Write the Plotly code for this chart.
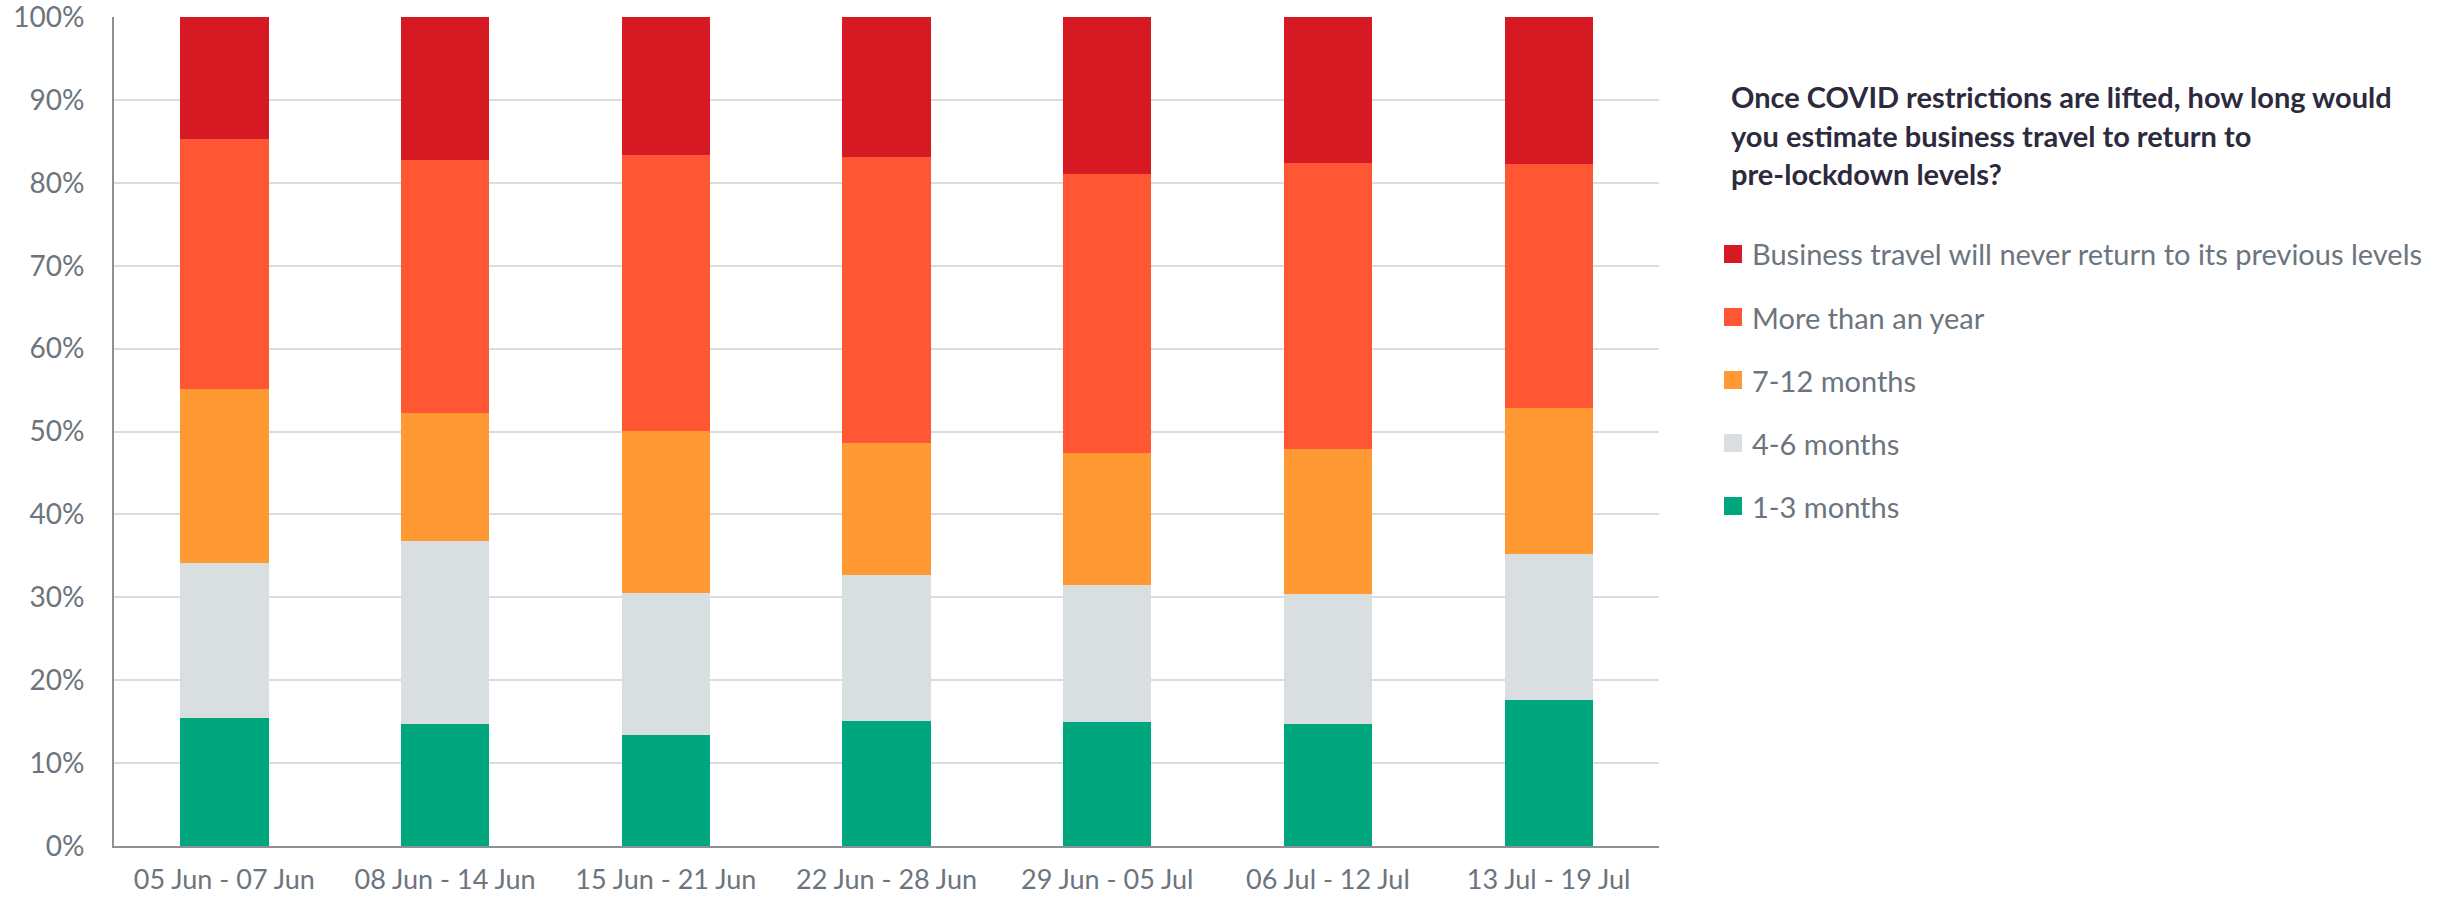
import plotly.graph_objects as go

categories = ["05 Jun - 07 Jun", "08 Jun - 14 Jun", "15 Jun - 21 Jun", "22 Jun - 28 Jun",
              "29 Jun - 05 Jul", "06 Jul - 12 Jul", "13 Jul - 19 Jul"]

series_names = ["1-3 months", "4-6 months", "7-12 months", "More than an year",
                "Business travel will never return to its previous levels"]

one_to_three = [15.5, 14.7, 13.4, 15.1, 15.0, 14.7, 17.6]
four_to_six = [18.6, 22.1, 17.1, 17.6, 16.5, 15.7, 17.6]
seven_to_twelve = [21.0, 15.4, 19.6, 15.9, 15.9, 17.5, 17.6]
more_than_year = [30.2, 30.6, 33.2, 34.5, 33.7, 34.5, 29.5]
never_return = [14.7, 17.2, 16.7, 16.9, 18.9, 17.6, 17.7]

series_values = [one_to_three, four_to_six, seven_to_twelve, more_than_year, never_return]
colors = ["#00A67E", "#D9DEE1", "#FF9933", "#FF5733", "#D71923"]

y_tick_values = [0, 10, 20, 30, 40, 50, 60, 70, 80, 90, 100]
y_tick_labels = ["0%", "10%", "20%", "30%", "40%", "50%", "60%", "70%", "80%", "90%", "100%"]

title_lines = ["Once COVID restrictions are lifted, how long would",
               "you estimate business travel to return to",
               "pre-lockdown levels?"]

FONT = "Lato"
TEXT = "#6C757D"

fig = go.Figure()
for name, vals, col in zip(series_names, series_values, colors):
    fig.add_trace(go.Bar(x=categories, y=vals, name=name, marker_color=col,
                         marker_line_width=0, showlegend=False))

W, H = 2461, 899
L, R, T, B = 114, 802, 17, 53
pw, ph = W - L - R, H - T - B

def px(x):
    return (x - L) / pw

def py(y):
    return (H - B - y) / ph

annotations = []
shapes = []
for i, line in enumerate(title_lines):
    annotations.append(dict(text="<b>" + line + "</b>", xref="paper", yref="paper",
                            x=px(1729), y=py(97 + i * 38), xanchor="left", yanchor="middle",
                            showarrow=False, font=dict(family=FONT, size=29, color="#2D2A3E")))

legend_order = list(range(len(series_names)))[::-1]
for k, idx in enumerate(legend_order):
    yc = 254 + k * 63
    shapes.append(dict(type="rect", xref="paper", yref="paper",
                       x0=px(1724), x1=px(1742), y0=py(yc - 9), y1=py(yc + 9),
                       fillcolor=colors[idx], line=dict(width=0)))
    annotations.append(dict(text=series_names[idx], xref="paper", yref="paper",
                            x=px(1750), y=py(yc), xanchor="left", yanchor="middle",
                            showarrow=False, font=dict(family=FONT, size=29, color=TEXT)))

fig.update_layout(
    width=W, height=H,
    margin=dict(l=L, r=R, t=T, b=B, pad=0, autoexpand=False),
    barmode="stack", bargap=0.6,
    plot_bgcolor="white", paper_bgcolor="white",
    font=dict(family=FONT, color=TEXT),
    annotations=annotations, shapes=shapes,
)
fig.update_xaxes(showline=True, linecolor="#8C9196", linewidth=2, showgrid=False,
                 tickfont=dict(family=FONT, size=27, color=TEXT), ticks="",
                 ticklabelstandoff=9, automargin=False, ticklabeloverflow="allow")
fig.update_yaxes(range=[0, 100], tickmode="array", tickvals=y_tick_values,
                 ticktext=y_tick_labels, showline=True,
                 linecolor="#8C9196", linewidth=2, gridcolor="#DCDCDC", gridwidth=1.5,
                 zeroline=False, tickfont=dict(family=FONT, size=28, color=TEXT),
                 ticks="", ticklabelstandoff=22, automargin=False, ticklabeloverflow="allow")

fig.write_html("out.html")
